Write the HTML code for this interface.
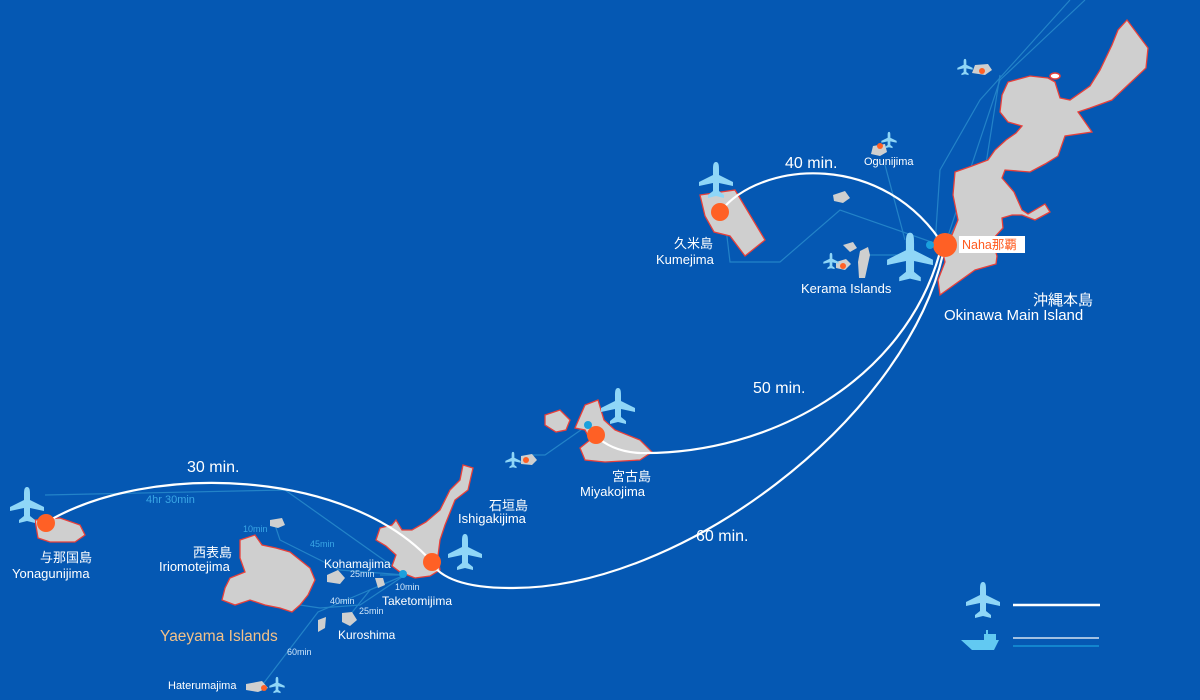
<!DOCTYPE html>
<html><head><meta charset="utf-8"><style>
html,body{margin:0;padding:0;background:#0558b3;}
svg{display:block;font-family:"Liberation Sans","Noto Sans CJK JP",sans-serif;}
</style></head><body>
<svg width="1200" height="700" viewBox="0 0 1200 700" xmlns="http://www.w3.org/2000/svg">
<defs>
<path id="pl" d="M0,-18 C3,-18 3,-14 3,-10 L3,-5 L17,2 L17,6 L3,3 L3,11 L8,15 L8,18 L0,16 L-8,18 L-8,15 L-3,11 L-3,3 L-17,6 L-17,2 L-3,-5 L-3,-10 C-3,-14 -3,-18 0,-18 Z" fill="#8fd6f7"/>
</defs>
<rect width="1200" height="700" fill="#0558b3"/>
<g fill="none" stroke="#2383c8" stroke-width="1.2">
<path d="M945,245 L1000,80 L1085,0"/><path d="M935,245 L940,170 L980,100 L1070,0"/>
<path d="M905,240 L885,165"/><path d="M945,245 L985,170 L1000,75"/>
<path d="M940,245 L840,210 L780,262 L730,262 L725,220"/>
<path d="M905,255 L860,255"/>
<path d="M588,425 L545,455 L530,455"/>
<path d="M405,575 L285,490 L45,495"/>
<path d="M405,575 L340,570 L280,540 L275,525"/>
<path d="M405,575 L380,575"/>
<path d="M405,575 L360,605 L320,608 L300,605"/>
<path d="M405,575 L370,590 L350,615"/>
<path d="M405,575 L318,612 L260,688"/>
</g>
<g fill="#cfcfcf" stroke="#e8403a" stroke-width="1.3">
<path d="M1127,20 L1148,48 L1146,68 L1112,100 L1090,108 L1078,112 L1092,132 L1065,136 L1058,156 L1045,164 L1030,172 L1005,170 L1002,178 L1014,192 L1022,210 L1028,214 L1045,204 L1050,212 L1035,220 L1022,215 L1012,215 L1002,218 L1003,228 L992,240 L997,256 L996,264 L975,270 L940,295 L938,280 L945,262 L941,245 L952,235 L958,220 L953,195 L955,172 L972,166 L988,160 L995,150 L1006,140 L1016,133 L1022,126 L1008,122 L1000,112 L1002,95 L1008,82 L1030,76 L1048,78 L1055,82 L1060,98 L1070,100 L1090,86 L1100,70 L1112,45 L1118,30 Z"/>
<path d="M700,195 L735,190 L765,240 L745,256 L730,236 L714,232 L705,216 Z"/>
<path d="M585,405 L598,400 L604,420 L615,430 L640,440 L652,452 L640,460 L605,462 L585,460 L580,448 L590,440 L585,430 L575,428 Z"/>
<path d="M545,415 L560,410 L570,420 L566,430 L556,432 L545,425 Z"/>
<path d="M463,465 L473,468 L468,490 L455,500 L445,525 L440,540 L438,556 L440,570 L430,576 L415,578 L400,572 L392,566 L396,555 L386,546 L376,540 L380,528 L392,525 L396,520 L402,530 L412,530 L426,522 L440,510 L450,490 L460,480 Z"/>
<path d="M240,540 L255,535 L262,545 L276,548 L290,552 L300,560 L310,568 L315,580 L308,595 L300,605 L292,612 L280,608 L265,605 L250,600 L235,605 L222,600 L225,588 L230,578 L245,572 L240,558 Z"/>
<path d="M35,520 L60,518 L80,525 L85,535 L75,542 L50,542 L38,538 Z"/>
</g>
<g fill="#cfcfcf">
<path d="M975,65 L988,64 L992,70 L985,75 L972,73 Z"/>
<path d="M873,146 L885,144 L887,152 L880,156 L871,154 Z"/>
<path d="M833,195 L845,191 L850,198 L843,203 L834,201 Z"/>
<path d="M843,245 L853,242 L857,248 L850,252 Z"/>
<path d="M860,251 L868,247 L870,255 L865,278 L859,278 L858,262 Z"/>
<path d="M836,262 L846,259 L851,264 L845,270 L836,268 Z"/>
<path d="M521,456 L532,454 L537,460 L532,465 L521,464 Z"/>
<path d="M270,520 L282,518 L285,525 L278,528 L270,526 Z"/>
<path d="M327,575 L338,570 L345,578 L340,584 L327,582 Z"/>
<path d="M375,578 L383,578 L385,585 L378,588 Z"/>
<path d="M342,613 L352,612 L357,620 L350,626 L342,622 Z"/>
<path d="M318,620 L326,617 L325,628 L318,632 Z"/>
<path d="M246,684 L262,681 L268,688 L258,692 L246,690 Z"/>
</g>
<g fill="none" stroke="#ffffff" stroke-width="2.2">
<path d="M720,212 C760,160 885,150 945,248"/>
<path d="M940,252 C905,380 770,455 640,453 C620,452 605,445 595,435"/>
<path d="M943,254 C905,420 680,590 510,588 C465,588 440,578 431,562"/>
<path d="M432,562 C350,470 150,460 45,523"/>
</g>
<g fill="#ff6025">
<circle cx="945" cy="245" r="12"/><circle cx="720" cy="212" r="9"/><circle cx="596" cy="435" r="9"/>
<circle cx="432" cy="562" r="9"/><circle cx="46" cy="523" r="9"/>
<circle cx="982" cy="71" r="3"/><circle cx="880" cy="146" r="3"/><circle cx="843" cy="266" r="3"/>
<circle cx="526" cy="460" r="3"/><circle cx="264" cy="688" r="3"/>
</g>
<circle cx="930" cy="245" r="4" fill="#1aa0dd"/><circle cx="588" cy="425" r="4" fill="#1aa0dd"/><circle cx="403" cy="574" r="4" fill="#1aa0dd"/>
<ellipse cx="1055" cy="76" rx="5" ry="3" fill="#fff" stroke="#e8403a" stroke-width="1.5"/>
<use href="#pl" transform="translate(716,180)"/>
<use href="#pl" transform="translate(910,257) scale(1.35)"/>
<use href="#pl" transform="translate(618,406)"/>
<use href="#pl" transform="translate(465,552)"/>
<use href="#pl" transform="translate(27,505)"/>
<use href="#pl" transform="translate(983,600)"/>
<use href="#pl" transform="translate(965,67) scale(0.45)"/>
<use href="#pl" transform="translate(889,140) scale(0.45)"/>
<use href="#pl" transform="translate(831,261) scale(0.45)"/>
<use href="#pl" transform="translate(513,460) scale(0.45)"/>
<use href="#pl" transform="translate(277,685) scale(0.45)"/>
<line x1="1013" y1="605" x2="1100" y2="605" stroke="#fff" stroke-width="2.5"/>
<line x1="1013" y1="638" x2="1099" y2="638" stroke="#fff" stroke-width="1.2"/>
<line x1="1013" y1="646" x2="1099" y2="646" stroke="#1aa0dd" stroke-width="1.2"/>
<path d="M961,640 L984,640 L984,634 L986,634 L986,630 L988,630 L988,634 L996,634 L996,640 L999,640 L994,650 L972,650 Z" fill="#62c9f2"/>
<g fill="#fff" font-size="16">
<text x="785" y="168">40 min.</text>
<text x="753" y="393">50 min.</text>
<text x="696" y="541">60 min.</text>
<text x="187" y="472">30 min.</text>
</g>
<g fill="#fff" font-size="13">
<text x="674" y="248">久米島</text><text x="656" y="264">Kumejima</text>
<text x="801" y="293">Kerama Islands</text>
<text x="1033" y="305" font-size="15">沖縄本島</text>
<text x="944" y="320" font-size="15">Okinawa Main Island</text>
<text x="612" y="481">宮古島</text><text x="580" y="496">Miyakojima</text>
<text x="489" y="510">石垣島</text><text x="458" y="523">Ishigakijima</text>
<text x="193" y="557">西表島</text><text x="159" y="571">Iriomotejima</text>
<text x="40" y="562">与那国島</text><text x="12" y="578">Yonagunijima</text>
<text x="324" y="568" font-size="12">Kohamajima</text>
<text x="382" y="605" font-size="12">Taketomijima</text>
<text x="338" y="639" font-size="12">Kuroshima</text>
<text x="168" y="689" font-size="11">Haterumajima</text>
<text x="864" y="165" font-size="11">Ogunijima</text>
</g>
<text x="160" y="641" fill="#f3c188" font-size="15.5">Yaeyama Islands</text>
<rect x="959" y="236" width="66" height="17" fill="#fff"/>
<text x="962" y="249" fill="#ff5a1f" font-size="12.5">Naha那覇</text>
<g fill="#3aa7e6" font-size="11">
<text x="146" y="503">4hr 30min</text>
<text x="243" y="532" font-size="9">10min</text>
<text x="310" y="547" font-size="9">45min</text>
</g>
<g fill="#cfe6fa" font-size="9">
<text x="350" y="577">25min</text><text x="395" y="590">10min</text>
<text x="330" y="604">40min</text><text x="359" y="614">25min</text>
<text x="287" y="655">60min</text>
</g>
</svg>
</body></html>
